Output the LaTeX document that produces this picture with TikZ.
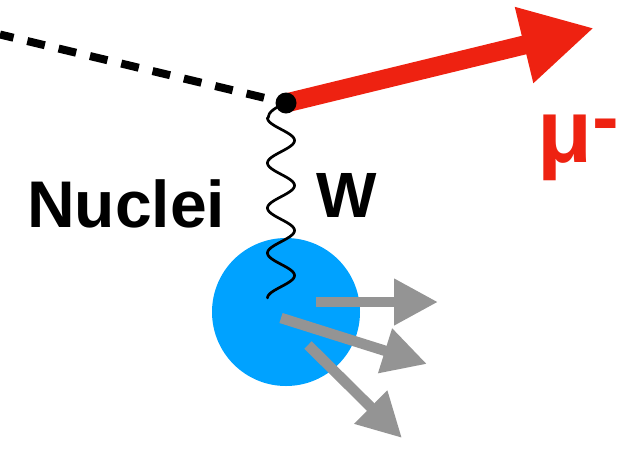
\documentclass[tikz,border=0pt]{standalone}
\usepackage{fontspec}
\setmainfont{Liberation Sans}
\usetikzlibrary{arrows.meta,calc}
\definecolor{muRed}{RGB}{238,34,17}
\definecolor{blobBlue}{RGB}{0,162,255}
\definecolor{jetGray}{RGB}{148,148,148}
\begin{document}
\begin{tikzpicture}[x=1pt,y=-1pt,
  dashline/.style={line width=8pt, dash pattern=on 18pt off 14.2pt, line cap=butt},
  redarrow/.style={muRed, line width=19pt, line cap=butt, -{Triangle[length=72pt,width=73pt]}},
  grayarrow/.style={jetGray, line width=10.5pt, line cap=butt, -{Triangle[length=44pt,width=44pt]}},
  wave/.style={line width=2.7pt, line cap=round, line join=round},
  lab/.style={anchor=base west, inner sep=0pt, font=\bfseries\fontsize{64}{70}\selectfont},
  vertex/.style={circle, fill=black, minimum size=21pt, inner sep=0pt}
]
\useasboundingbox (0,0) rectangle (629,451);
% nucleus
\fill[blobBlue] (286,312) circle[radius=74pt];
\node[circle, minimum size=148pt, inner sep=0pt] (blob) at (286,312) {};
% labels
\node[lab, font=\bfseries\fontsize{66}{72}\selectfont] (nuc) at (27,227) {Nuclei};
\node[lab] (wlab) at (316,217) {W};
\node[lab, text=muRed, font=\bfseries\fontsize{90}{96}\selectfont] (mulab) at (537,162) {μ\raisebox{18pt}{\fontsize{80}{86}\selectfont -}};
% vertex and lines
\coordinate (v) at (286,103);
\coordinate (dl) at (0,34.5);
\coordinate (d0) at ($(v)!22.6pt!(dl)$);
\coordinate (mutip) at (594,28);
\draw[dashline] (d0) -- (dl);
\draw[redarrow] (v) -- (mutip);
\draw[wave] (v) .. controls (276,107) and (268,112) .. (268,118)
  -- plot[domain=0:4, samples=160, smooth] ({281-13.5*cos(360*\x)}, {118+45*\x});
\node[vertex] (vx) at (v) {};
% outgoing hadrons
\coordinate (g1s) at (316,302);
\coordinate (g1e) at (438,302);
\coordinate (g2s) at (281,318);
\coordinate (g2e) at (427,364);
\coordinate (g3s) at (308,345);
\coordinate (g3e) at (402,438);
\draw[grayarrow] (g1s) -- (g1e);
\draw[grayarrow] (g2s) -- (g2e);
\draw[grayarrow] (g3s) -- (g3e);
\end{tikzpicture}
\end{document}
